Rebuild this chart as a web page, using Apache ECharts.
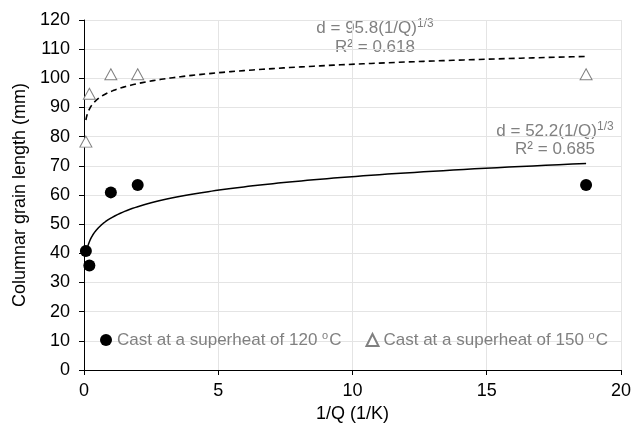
<!DOCTYPE html>
<html>
<head>
<meta charset="utf-8">
<script src="https://cdn.jsdelivr.net/npm/echarts@6/dist/echarts.min.js"></script>
<style>html,body{margin:0;padding:0;background:#fff}#c{width:634px;height:430px}</style>
</head>
<body>
<div id="c"></div>
<script>
// Data
const invQ = [0.07, 0.2, 1.0, 2.0, 18.7];
const grain120 = [40.8, 35.8, 60.9, 63.4, 63.4];
const grain150 = [78.3, 94.7, 101.4, 101.4, 101.4];
const xTicks = [0, 5, 10, 15, 20];
const yTicks = [0, 10, 20, 30, 40, 50, 60, 70, 80, 90, 100, 110, 120];
const seriesNames = ['120', '150'];
const fitLabels = ['d = 95.8(1/Q)', 'R² = 0.618', 'd = 52.2(1/Q)', 'R² = 0.685'];

// Power-law least squares fit (log space), like a spreadsheet power trendline
function powerFit(xs, ys) {
  const lx = xs.map(Math.log), ly = ys.map(Math.log);
  const n = xs.length;
  const mx = lx.reduce((s, v) => s + v, 0) / n, my = ly.reduce((s, v) => s + v, 0) / n;
  let sxy = 0, sxx = 0;
  for (let i = 0; i < n; i++) { sxy += (lx[i] - mx) * (ly[i] - my); sxx += (lx[i] - mx) ** 2; }
  const b = sxy / sxx, a = Math.exp(my - b * mx);
  return {a, b};
}
function trend(xs, ys) {
  const f = powerFit(xs, ys);
  const x0 = Math.min(...xs), x1 = Math.max(...xs);
  const pts = [];
  const N = 200;
  for (let i = 0; i <= N; i++) {
    const x = x0 * Math.pow(x1 / x0, i / N);
    pts.push([x, f.a * Math.pow(x, f.b)]);
  }
  return pts;
}

const font = 'Liberation Sans, Arial, sans-serif';
const gray = '#808080';
const chart = echarts.init(document.getElementById('c'), null, {renderer: 'canvas'});
chart.setOption({
  animation: false,
  textStyle: {fontFamily: font},
  grid: {left: 84, right: 12, top: 20, bottom: 60},
  xAxis: {
    type: 'value', min: xTicks[0], max: xTicks[xTicks.length - 1], interval: 5,
    name: '1/Q (1/K)', nameLocation: 'middle', nameGap: 30,
    nameTextStyle: {fontSize: 18, color: '#000', fontFamily: font},
    axisLine: {show: true, onZero: false, lineStyle: {color: '#000', width: 1}},
    axisTick: {show: true, length: 5, lineStyle: {color: '#000'}},
    axisLabel: {fontSize: 18, color: '#000', margin: 12, fontFamily: font},
    splitLine: {show: true, lineStyle: {color: '#e4e4e4', width: 1}}
  },
  yAxis: {
    type: 'value', min: yTicks[0], max: yTicks[yTicks.length - 1], interval: 10,
    name: 'Columnar grain length (mm)', nameLocation: 'middle', nameGap: 52,
    nameTextStyle: {fontSize: 18, color: '#000', fontFamily: font},
    axisLine: {show: true, onZero: false, lineStyle: {color: '#000', width: 1}},
    axisTick: {show: true, length: 5, lineStyle: {color: '#000'}},
    axisLabel: {fontSize: 18, color: '#000', margin: 14, fontFamily: font},
    splitLine: {show: true, lineStyle: {color: '#e4e4e4', width: 1}}
  },
  legend: {
    data: seriesNames,
    left: 100, top: 330, padding: 0,
    itemWidth: 12, itemHeight: 12, itemGap: 24,
    formatter: n => '{t|Cast at a superheat of ' + n + ' }{s|o}{t|C}',
    textStyle: {
      color: gray, fontSize: 17, fontFamily: font,
      rich: {
        t: {color: gray, fontSize: 17, fontFamily: font, lineHeight: 20},
        s: {color: gray, fontSize: 11, fontFamily: font, verticalAlign: 'top', lineHeight: 20, padding: [0, 1, 8, 0]}
      }
    }
  },
  series: [
    {
      type: 'line', data: trend(invQ, grain150), showSymbol: false, symbol: 'none',
      lineStyle: {color: '#000', width: 1.6, type: [6, 4]}, z: 2, silent: true
    },
    {
      type: 'line', data: trend(invQ, grain120), showSymbol: false, symbol: 'none',
      lineStyle: {color: '#000', width: 1.5, type: 'solid'}, z: 2, silent: true
    },
    {
      name: seriesNames[0], type: 'scatter', data: invQ.map((x, i) => [x, grain120[i]]),
      symbol: 'circle', symbolSize: 12, itemStyle: {color: '#000', opacity: 1}, z: 5
    },
    {
      name: seriesNames[1], type: 'scatter', data: invQ.map((x, i) => [x, grain150[i]]),
      symbol: 'triangle', symbolSize: [12, 11],
      itemStyle: {color: '#fff', borderColor: gray, borderWidth: 1, opacity: 1}, z: 5
    }
  ],
  graphic: [
    {type: 'text', x: 375, y: 28, style: {
      text: '{a|' + fitLabels[0] + '}{s|1/3}', align: 'center', verticalAlign: 'middle',
      rich: {a: {fill: gray, fontSize: 17, fontFamily: font, lineHeight: 20},
             s: {fill: gray, fontSize: 12, fontFamily: font, verticalAlign: 'top', lineHeight: 20, padding: [0, 0, 8, 0]}}}},
    {type: 'text', x: 375, y: 47, style: {
      text: fitLabels[1], align: 'center', verticalAlign: 'middle', fill: gray, fontSize: 17, fontFamily: font}},
    {type: 'text', x: 555, y: 131, style: {
      text: '{a|' + fitLabels[2] + '}{s|1/3}', align: 'center', verticalAlign: 'middle',
      rich: {a: {fill: gray, fontSize: 17, fontFamily: font, lineHeight: 20},
             s: {fill: gray, fontSize: 12, fontFamily: font, verticalAlign: 'top', lineHeight: 20, padding: [0, 0, 8, 0]}}}},
    {type: 'text', x: 555, y: 149, style: {
      text: fitLabels[3], align: 'center', verticalAlign: 'middle', fill: gray, fontSize: 17, fontFamily: font}}
  ]
});
</script>
</body>
</html>
